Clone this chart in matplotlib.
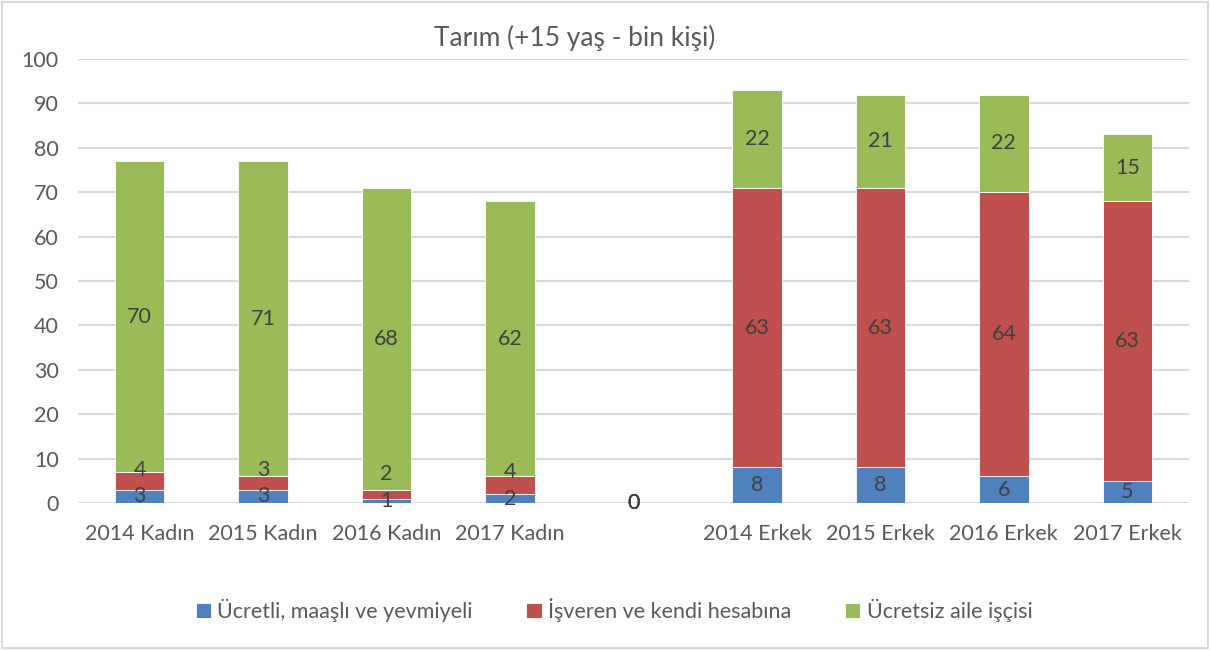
import numpy as np
import matplotlib.pyplot as plt
from matplotlib.patches import Rectangle

plt.rcParams['font.family'] = ['Lato', 'DejaVu Sans']

# Data
categories = ['2014 Kadın', '2015 Kadın', '2016 Kadın', '2017 Kadın', '',
              '2014 Erkek', '2015 Erkek', '2016 Erkek', '2017 Erkek']
ucretli = [3, 3, 1, 2, 0, 8, 8, 6, 5]
isveren = [4, 3, 2, 4, 0, 63, 63, 64, 63]
ucretsiz = [70, 71, 68, 62, 0, 22, 21, 22, 15]
series_names = ['Ücretli, maaşlı ve yevmiyeli', 'İşveren ve kendi hesabına',
                'Ücretsiz aile işçisi']
colors = ['#4F81BD', '#C0504D', '#9BBB59']
yticks = list(range(0, 101, 10))

text_col = '#595959'
label_col = '#404040'
grid_col = '#D9D9D9'

fig = plt.figure(figsize=(12.1, 6.5), dpi=100)
ax = fig.add_axes([78 / 1210, 1 - 503 / 650, (1189 - 78) / 1210, (503 - 59) / 650])

x = np.arange(len(categories))
width = 0.4
bottom = np.zeros(len(categories))
prev_label = np.full(len(categories), -100.0)
for vals, name, col in zip([ucretli, isveren, ucretsiz], series_names, colors):
    vals = np.array(vals, dtype=float)
    ax.bar(x, vals, width, bottom=bottom, color=col, label=name,
           edgecolor='white', linewidth=0.6, zorder=3)
    for i, (xi, b, v) in enumerate(zip(x, bottom, vals)):
        ypos = b + v / 2
        if v > 0:
            # push small-segment labels up so they don't sit on the one below
            ypos = max(ypos, prev_label[i] + 6)
            prev_label[i] = ypos
        ax.text(xi, ypos, f'{v:g}', ha='center', va='center',
                fontsize=15.5, color=label_col, zorder=4)
    bottom += vals

ax.set_xlim(-0.5, len(categories) - 0.5)
ax.set_ylim(0, 100)
ax.set_yticks(yticks)
ax.set_xticks(x)
ax.set_xticklabels(categories)
ax.tick_params(axis='both', length=0, labelsize=15.5, labelcolor=text_col)
ax.tick_params(axis='x', pad=15)
ax.tick_params(axis='y', pad=14)
ax.grid(axis='y', color=grid_col, linewidth=1.5, zorder=0)
for s in ax.spines.values():
    s.set_visible(False)

fig.text(575 / 1210, 1 - 38 / 650, 'Tarım (+15 yaş - bin kişi)', ha='center',
         va='center', fontsize=19, color=text_col)

fig.legend(loc='center', bbox_to_anchor=(614 / 1210, 1 - 610 / 650), ncol=3,
           frameon=False, fontsize=15.5, labelcolor=text_col, handlelength=0.7,
           handleheight=0.7, handletextpad=0.3, columnspacing=2.5)

fig.patches.append(Rectangle((0.002, 0.003), 0.996, 0.994, transform=fig.transFigure,
                             fill=False, edgecolor=grid_col, linewidth=1.5))

fig.savefig('out.png', dpi=100)
